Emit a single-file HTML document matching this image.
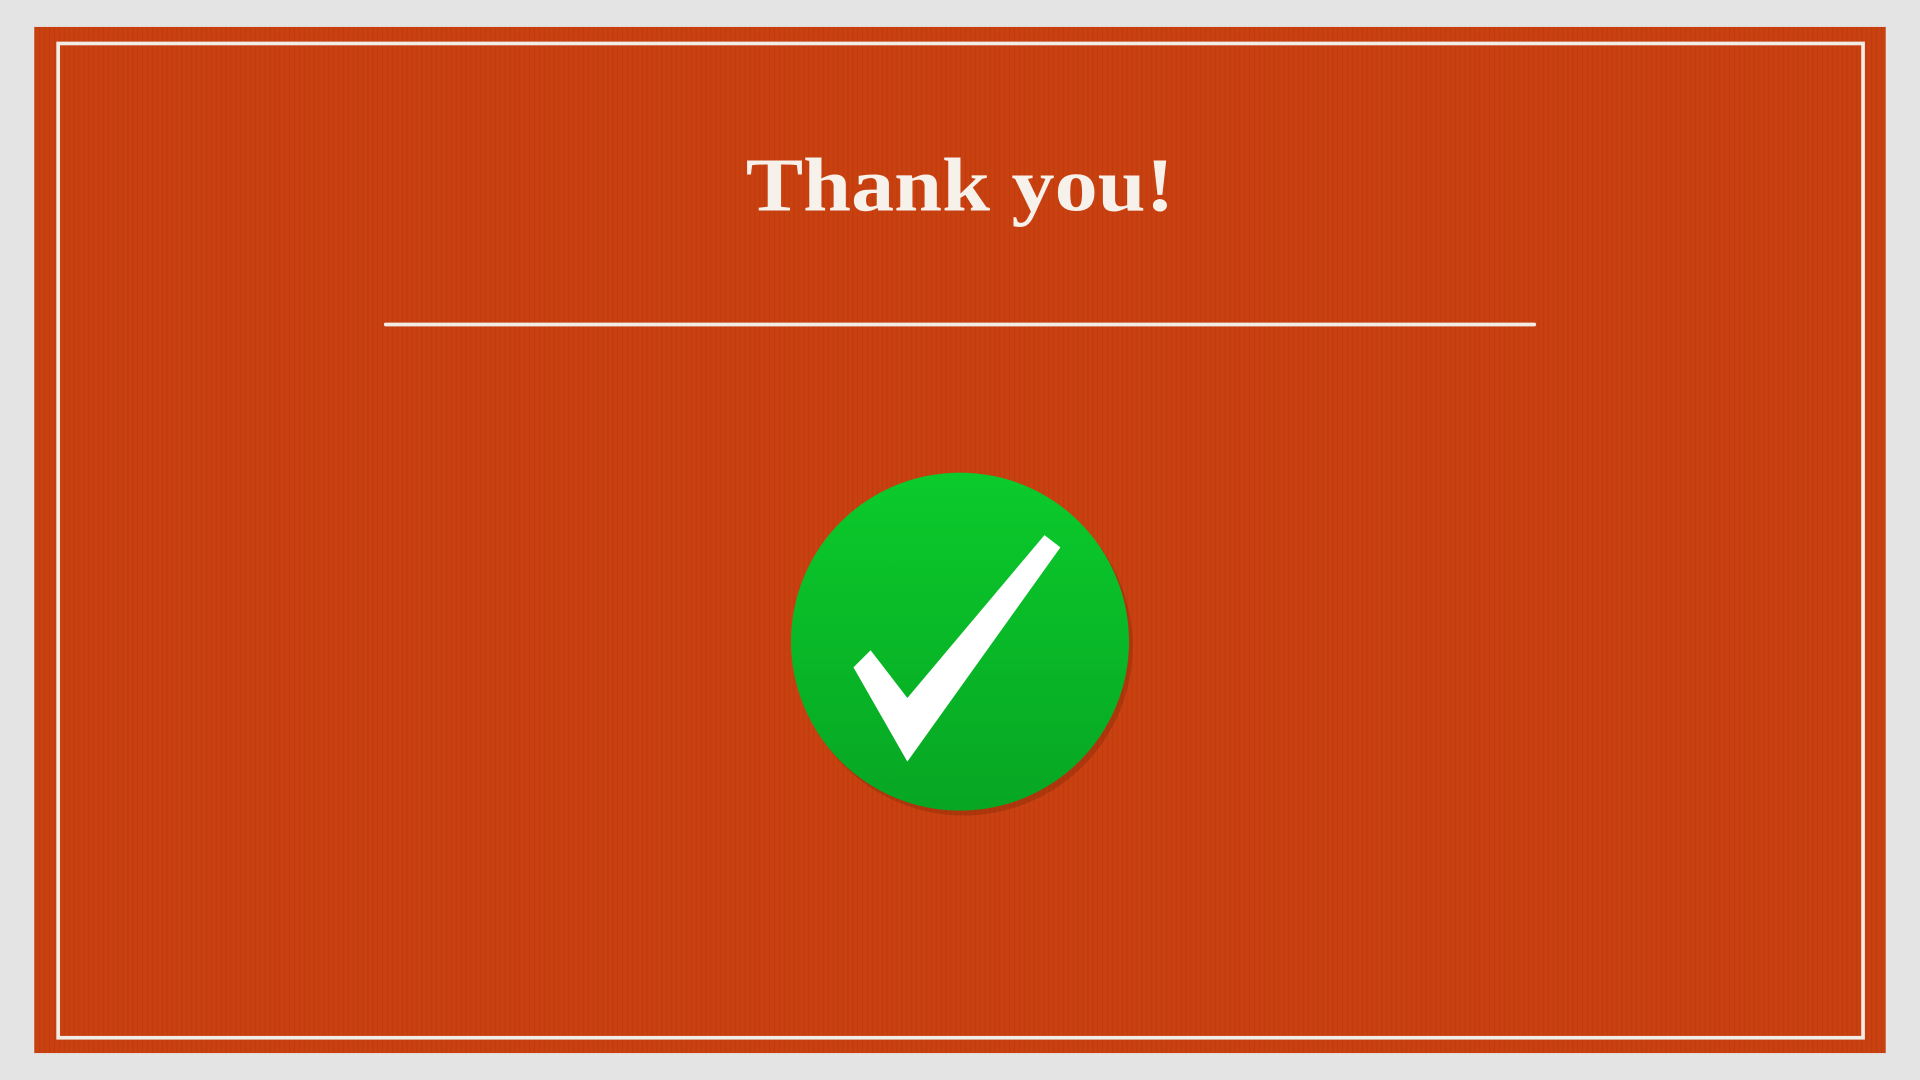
<!DOCTYPE html>
<html>
<head>
<meta charset="utf-8">
<style>
html,body{margin:0;padding:0;width:1920px;height:1080px;overflow:hidden;background:#e4e4e4;}
svg{display:block;}
</style>
</head>
<body>
<svg width="1920" height="1080" viewBox="0 0 1568 882">
  <defs>
    <linearGradient id="g" x1="0" y1="0" x2="0" y2="1">
      <stop offset="0" stop-color="#0bcb2c"/>
      <stop offset="1" stop-color="#07a623"/>
    </linearGradient>
    <pattern id="tex" width="4" height="4" patternUnits="userSpaceOnUse">
      <rect width="4" height="4" fill="#c94110"/>
      <rect width="1" height="4" fill="#c03c0e"/>
    </pattern>
  </defs>
  <rect x="0" y="0" width="1568" height="882" fill="#e4e4e4"/>
  <rect x="28" y="22" width="1512" height="838" fill="url(#tex)"/>
  <rect x="47.5" y="35.5" width="1474" height="812" fill="none" stroke="#f2ece6" stroke-width="3"/>
  <text x="784" y="172" text-anchor="middle" textLength="350" lengthAdjust="spacingAndGlyphs" font-family="'Liberation Serif', serif" font-weight="bold" font-size="62" fill="#f7f1ec">Thank you!</text>
  <line x1="315" y1="265" x2="1253" y2="265" stroke="#f2ece6" stroke-width="3" stroke-linecap="round"/>
  <circle cx="787" cy="528" r="138" fill="#7a2608" opacity="0.35"/>
  <circle cx="784" cy="524" r="138" fill="url(#g)"/>
  <polygon points="697,545 711,531 741,570 853,437 866,447 741,622" fill="#ffffff"/>
</svg>
</body>
</html>
